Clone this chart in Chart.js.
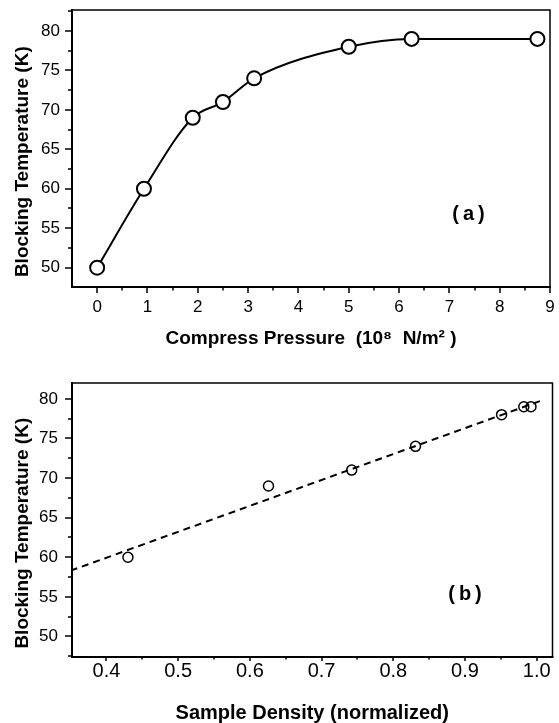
<!DOCTYPE html>
<html>
<head>
<meta charset="utf-8">
<script src="https://cdn.jsdelivr.net/npm/chart.js@4.4.0/dist/chart.umd.min.js"></script>
<style>
    html, body { margin: 0; padding: 0; background: #fff; }
    #chartContentA { position: absolute; left: 0; top: 0; width: 559px; height: 355px; }
    #chartContentB { position: absolute; left: 0; top: 360px; width: 559px; height: 363px; }
</style>
</head>
<body>
<div id="chartContentA"><canvas id="chartA"></canvas></div>
<div id="chartContentB"><canvas id="chartB"></canvas></div>
<script>
// (a) temperatura de bloqueo vs presion
var pressure = [0, 0.93, 1.9, 2.5, 3.12, 5.0, 6.25, 8.75];
var tempA = [50, 60, 69, 71, 74, 78, 79, 79];
// (b) temperatura de bloqueo vs densidad
var density = [0.43, 0.626, 0.742, 0.831, 0.951, 0.982, 0.992];
var tempB = [60, 69, 71, 74, 78, 79, 79];
// recta de ajuste, extremos
var fitX = [0.35, 1.01];
var fitY = [58.3, 79.9];

// ticks
var yTicks = [50, 55, 60, 65, 70, 75, 80];
var yMinor = [47.5, 52.5, 57.5, 62.5, 67.5, 72.5, 77.5, 82.5];
var xTicksA = [0, 1, 2, 3, 4, 5, 6, 7, 8, 9];
var xMinorA = [0.5, 1.5, 2.5, 3.5, 4.5, 5.5, 6.5, 7.5, 8.5];
var xTicksB = [0.4, 0.5, 0.6, 0.7, 0.8, 0.9, 1.0];
var xMinorB = [0.45, 0.55, 0.65, 0.75, 0.85, 0.95];

var FAMILY = '"Liberation Sans", Arial, Helvetica, sans-serif';

// marco, ticks hacia afuera y etiqueta (a)/(b)
var marcoPlugin = {
    id: 'marco',
    afterDraw: function (chart, args, opts) {
        var ctx = chart.ctx;
        var a = chart.chartArea;
        var sx = chart.scales.x;
        var sy = chart.scales.y;
        ctx.save();
        ctx.strokeStyle = '#000';
        ctx.lineCap = 'butt';
        ctx.lineWidth = 1.5;
        ctx.beginPath();
        ctx.moveTo(a.left, a.top);
        ctx.lineTo(a.right, a.top);
        ctx.lineTo(a.right, a.bottom);
        ctx.stroke();
        ctx.lineWidth = 2;
        ctx.beginPath();
        ctx.moveTo(a.left, a.top - 1);
        ctx.lineTo(a.left, a.bottom);
        ctx.lineTo(a.right + 1, a.bottom);
        ctx.stroke();

        ctx.lineWidth = 1.5;
        ctx.beginPath();
        opts.xMajor.forEach(function (v) {
            var px = Math.round(sx.getPixelForValue(v));
            ctx.moveTo(px, a.bottom);
            ctx.lineTo(px, a.bottom + opts.xLen);
        });
        opts.xMinor.forEach(function (v) {
            var px = Math.round(sx.getPixelForValue(v));
            ctx.moveTo(px, a.bottom);
            ctx.lineTo(px, a.bottom + opts.xLen * 0.6);
        });
        yTicks.forEach(function (v) {
            var py = Math.round(sy.getPixelForValue(v));
            ctx.moveTo(a.left, py);
            ctx.lineTo(a.left - 7, py);
        });
        yMinor.forEach(function (v) {
            if (v < sy.min || v > sy.max) return;
            var py = Math.round(sy.getPixelForValue(v));
            ctx.moveTo(a.left, py);
            ctx.lineTo(a.left - 4, py);
        });
        ctx.stroke();

        ctx.fillStyle = '#000';
        ctx.font = 'bold 20px ' + FAMILY;
        ctx.textAlign = 'center';
        ctx.textBaseline = 'middle';
        ctx.fillText(opts.label, sx.getPixelForValue(opts.labelX), sy.getPixelForValue(opts.labelY));
        ctx.restore();
    }
};

function configGraph(datasets, p) {
    var config = {
        type: 'scatter',
        data: { datasets: datasets },
        options: {
            responsive: true,
            maintainAspectRatio: false,
            animation: false,
            layout: { padding: p.padding },
            plugins: {
                legend: { display: false },
                tooltip: { enabled: false },
                marco: p.marco
            },
            scales: {
                x: {
                    type: 'linear',
                    min: p.xMin,
                    max: p.xMax,
                    afterBuildTicks: function (s) { s.ticks = p.xTicks.map(function (v) { return { value: v }; }); },
                    afterFit: function (s) {
                        s.height = p.xHeight;
                        s.paddingLeft = 0;
                        s.paddingRight = 0;
                    },
                    grid: { display: false, drawTicks: false },
                    border: { display: false },
                    ticks: {
                        padding: p.xTickPad,
                        color: '#000',
                        autoSkip: false,
                        maxRotation: 0,
                        font: { family: FAMILY, size: p.xTickSize },
                        callback: p.xFormat
                    },
                    title: {
                        display: true,
                        text: p.xTitle,
                        color: '#000',
                        font: { family: FAMILY, size: p.xTitleSize, weight: 'bold' },
                        padding: { top: 0, bottom: p.xTitlePad }
                    }
                },
                y: {
                    type: 'linear',
                    min: p.yMin,
                    max: p.yMax,
                    afterBuildTicks: function (s) { s.ticks = yTicks.map(function (v) { return { value: v }; }); },
                    afterFit: function (s) {
                        s.width = 72;
                        s.paddingTop = 0;
                        s.paddingBottom = 0;
                    },
                    grid: { display: false, drawTicks: false },
                    border: { display: false },
                    ticks: {
                        padding: p.yTickPad,
                        color: '#000',
                        font: { family: FAMILY, size: 17 }
                    },
                    title: {
                        display: true,
                        // espacios al final para bajar un poco el titulo como en el original
                        text: 'Blocking Temperature (K)     ',
                        color: '#000',
                        font: { family: FAMILY, size: 19, weight: 'bold' },
                        padding: { top: 11, bottom: 0 }
                    }
                }
            }
        },
        plugins: [marcoPlugin]
    };
    return config;
}

document.addEventListener('DOMContentLoaded', function () {
    var dataA = pressure.map(function (x, i) { return { x: x, y: tempA[i] }; });
    var dataB = density.map(function (x, i) { return { x: x, y: tempB[i] }; });
    var dataFit = fitX.map(function (x, i) { return { x: x, y: fitY[i] }; });

    new Chart(document.getElementById('chartA'), configGraph([
        {
            data: dataA,
            showLine: true,
            cubicInterpolationMode: 'monotone',
            borderColor: '#000',
            borderWidth: 2,
            pointRadius: 7,
            pointBorderWidth: 2,
            pointBackgroundColor: '#fff',
            pointBorderColor: '#000'
        }
    ], {
        padding: { left: 0, right: 7, top: 10, bottom: 0 },
        xMin: -0.5, xMax: 9, xTicks: xTicksA, xHeight: 68,
        xTickPad: 10, xTickSize: 17,
        xFormat: function (v) { return String(v); },
        xTitle: 'Compress Pressure  (10\u2078  N/m\u00B2 )', xTitleSize: 19, xTitlePad: 5,
        yMin: 47.55, yMax: 82.66, yTickPad: 12,
        marco: { xMajor: xTicksA, xMinor: xMinorA, xLen: 6, label: '(\u2009a\u2009)', labelX: 7.38, labelY: 56.7 }
    }));

    new Chart(document.getElementById('chartB'), configGraph([
        {
            data: dataFit,
            showLine: true,
            borderColor: '#000',
            borderWidth: 2,
            borderDash: [7, 5],
            pointRadius: 0
        },
        {
            data: dataB,
            showLine: false,
            pointRadius: 5,
            pointBorderWidth: 1.5,
            pointBackgroundColor: 'rgba(0,0,0,0)',
            pointBorderColor: '#000'
        }
    ], {
        padding: { left: 0, right: 4, top: 23, bottom: 0 },
        xMin: 0.352, xMax: 1.022, xTicks: xTicksB, xHeight: 66,
        xTickPad: 2, xTickSize: 20,
        xFormat: function (v) { return v.toFixed(1); },
        xTitle: 'Sample Density (normalized)', xTitleSize: 20, xTitlePad: -2,
        yMin: 47.4, yMax: 82, yTickPad: 14,
        marco: { xMajor: xTicksB, xMinor: xMinorB, xLen: 4, label: '(\u2009b\u2009)', labelX: 0.9, labelY: 55.25 }
    }));
});
</script>
</body>
</html>
